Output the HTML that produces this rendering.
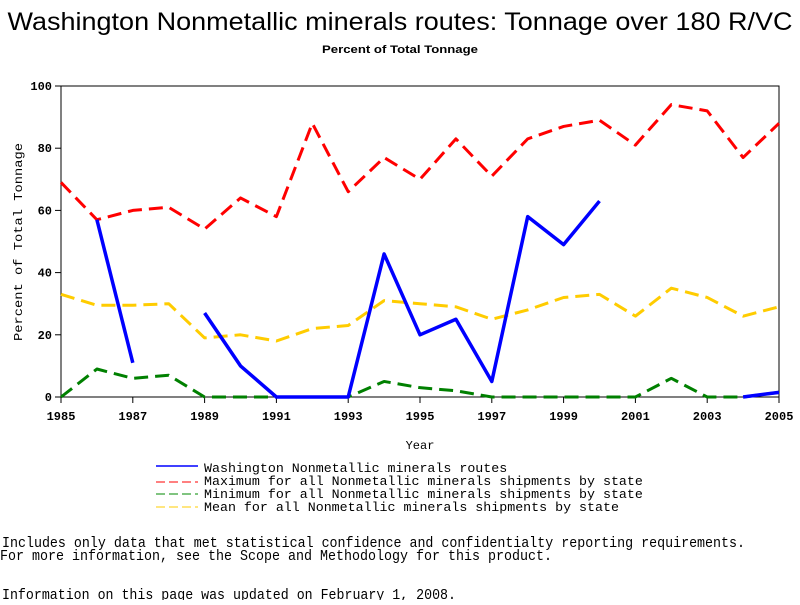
<!DOCTYPE html>
<html><head><meta charset="utf-8"><style>
body{margin:0;background:#fff;width:800px;height:600px;overflow:hidden}
text{font-family:"Liberation Mono",monospace}
</style></head><body>
<svg id="chart" width="800" height="600" xmlns="http://www.w3.org/2000/svg">
<text x="400" y="30" text-anchor="middle" style="font-family:'Liberation Sans',sans-serif;font-size:25px" textLength="785" lengthAdjust="spacingAndGlyphs">Washington Nonmetallic minerals routes: Tonnage over 180 R/VC</text>
<text x="400" y="53" text-anchor="middle" style="font-family:'Liberation Sans',sans-serif;font-size:11px;font-weight:bold" textLength="156" lengthAdjust="spacingAndGlyphs">Percent of Total Tonnage</text>
<rect x="61" y="86" width="718" height="311" fill="none" stroke="#000" stroke-width="1"/>
<g id="axes"></g>
<g id="series"></g>
<text x="420" y="449" text-anchor="middle" font-size="12">Year</text>
<text transform="translate(22,242) rotate(-90)" text-anchor="middle" font-size="12" textLength="198" lengthAdjust="spacingAndGlyphs">Percent of Total Tonnage</text>
<g font-size="13.3">
<g><line x1="156" y1="466" x2="198" y2="466" stroke="#00f" stroke-width="1.5"/><text x="204" y="472">Washington Nonmetallic minerals routes</text></g>
<g><line x1="156" y1="482" x2="198" y2="482" stroke="#f00" stroke-width="1" stroke-dasharray="9,4"/><text x="204" y="485">Maximum for all Nonmetallic minerals shipments by state</text></g>
<g><line x1="156" y1="494" x2="198" y2="494" stroke="#080" stroke-width="1" stroke-dasharray="9,4"/><text x="204" y="498">Minimum for all Nonmetallic minerals shipments by state</text></g>
<g><line x1="156" y1="507" x2="198" y2="507" stroke="#fc0" stroke-width="1" stroke-dasharray="9,4"/><text x="204" y="511">Mean for all Nonmetallic minerals shipments by state</text></g>
</g>
<g font-size="15">
<text x="2" y="547" textLength="743" lengthAdjust="spacingAndGlyphs">Includes only data that met statistical confidence and confidentialty reporting requirements.</text>
<text x="0" y="560" textLength="552" lengthAdjust="spacingAndGlyphs">For more information, see the Scope and Methodology for this product.</text>
<text x="2" y="599" textLength="454" lengthAdjust="spacingAndGlyphs">Information on this page was updated on February 1, 2008.</text>
</g>
</svg>
<script>
const years=[1985,1986,1987,1988,1989,1990,1991,1992,1993,1994,1995,1996,1997,1998,1999,2000,2001,2002,2003,2004,2005];
const washington=[null,57,11,null,27,10,0,0,0,46,20,25,5,58,49,63,null,null,null,0,1.5];
const maximum=[69,57,60,61,54,64,58,88,66,77,70,83,71,83,87,89,81,94,92,77,88];
const minimum=[0,9,6,7,0,0,0,0,0,5,3,2,0,0,0,0,0,6,0,0,1.5];
const mean=[33,29.5,29.5,30,19,20,18,22,23,31,30,29,25,28,32,33,26,35,32,26,29];
const yTicks=[0,20,40,60,80,100];
const xTicks=[1985,1987,1989,1991,1993,1995,1997,1999,2001,2003,2005];
const NS="http://www.w3.org/2000/svg";
const X=y=>61+(y-1985)*718/20, Y=v=>397-v*3.11;
const axes=document.getElementById('axes'), ser=document.getElementById('series');
function mk(tag,attrs,parent){const e=document.createElementNS(NS,tag);for(const k in attrs)e.setAttribute(k,attrs[k]);parent.appendChild(e);return e;}
yTicks.forEach(t=>{
  const l=mk('line',{x1:55,x2:61,y1:Y(t),y2:Y(t),stroke:'#000'},axes);
  
  
  const tx=mk('text',{x:52,y:Y(t)+4,'text-anchor':'end','font-size':'12','font-weight':'bold'},axes);
  
  
  tx.textContent=t;
});
xTicks.forEach(t=>{
  const l=mk('line',{x1:X(t),x2:X(t),y1:397,y2:403,stroke:'#000'},axes);
  
  
  const tx=mk('text',{x:X(t),y:420,'text-anchor':'middle','font-size':'12','font-weight':'bold'},axes);
  
  
  tx.textContent=t;
});
function draw(vals,color,w,dash,name){
  let segs=[],cur=[];
  vals.forEach((v,i)=>{if(v===null){if(cur.length)segs.push(cur);cur=[];}else cur.push(X(years[i])+','+Y(v));});
  if(cur.length)segs.push(cur);
  segs.forEach(s=>{
    const p=mk('polyline',{points:s.join(' '),fill:'none',stroke:color,'stroke-width':w,'stroke-linejoin':'round'},ser);
    if(dash)p.setAttribute('stroke-dasharray',dash);
    
    
  });
}
draw(mean,'#ffcc00',3,'14,7','series-mean');
draw(minimum,'#008000',3,'14,7','series-minimum');
draw(maximum,'#ff0000',3,'14,7','series-maximum');
draw(washington,'#0000ff',3.5,null,'series-washington');
</script>
</body></html>
